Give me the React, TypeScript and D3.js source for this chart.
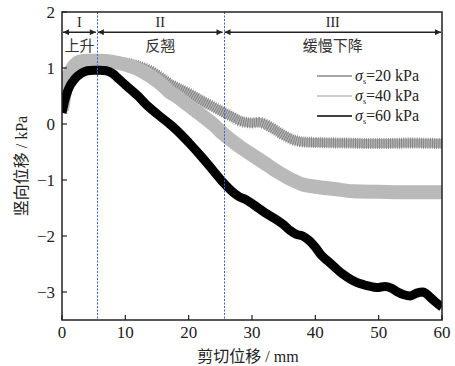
import React from "react";
import * as d3 from "d3";

const X20 = [0, 0.5, 1, 2, 3, 4, 6, 8, 10, 12, 14, 16, 17, 18, 20, 22, 24, 25.5, 27, 28, 29, 30, 31, 32, 33, 34, 35, 36, 38, 40, 45, 50, 55, 60];
const Y20 = [0.2, 0.6, 0.85, 1.03, 1.09, 1.1, 1.1, 1.1, 1.09, 1.04, 0.95, 0.8, 0.72, 0.66, 0.55, 0.42, 0.3, 0.21, 0.12, 0.06, 0.03, 0.02, 0.03, 0.0, -0.06, -0.13, -0.2, -0.26, -0.32, -0.33, -0.34, -0.35, -0.34, -0.35];

const X40 = [0, 0.5, 1, 2, 3, 4, 6, 8, 10, 12, 14, 16, 17, 18, 20, 22, 24, 25.5, 28, 30, 32, 34, 36, 38, 40, 43, 46, 50, 55, 60];
const Y40 = [0.25, 0.6, 0.85, 1.05, 1.12, 1.13, 1.13, 1.11, 1.06, 0.98, 0.85, 0.68, 0.57, 0.5, 0.33, 0.16, -0.02, -0.18, -0.4, -0.55, -0.7, -0.85, -0.98, -1.08, -1.12, -1.16, -1.2, -1.21, -1.22, -1.22];

const X60 = [0, 0.5, 1, 2, 3, 4, 5, 6, 7, 8, 9, 10, 11, 12, 13, 15, 17, 18, 20, 22, 24, 25.5, 27, 28, 29, 30, 31, 32, 34, 35, 36, 37, 38, 39, 40, 41, 42, 43, 44, 45, 46, 47, 48, 50, 51, 52, 53, 54, 55, 56, 57, 58, 59, 60];
const Y60 = [0.2, 0.45, 0.62, 0.8, 0.9, 0.95, 0.96, 0.96, 0.95, 0.9, 0.8, 0.7, 0.6, 0.5, 0.38, 0.18, 0.0, -0.1, -0.33, -0.58, -0.85, -1.05, -1.22, -1.3, -1.35, -1.42, -1.5, -1.58, -1.72, -1.8, -1.9, -1.97, -2.0, -2.08, -2.2, -2.35, -2.45, -2.55, -2.65, -2.73, -2.8, -2.85, -2.88, -2.92, -2.9, -2.93, -3.0, -3.05, -3.07, -3.02, -3.0, -3.08, -3.18, -3.27];

const X_TICKS = [0, 10, 20, 30, 40, 50, 60];
const Y_TICKS = [-3, -2, -1, 0, 1, 2];
const STAGE_BOUNDS = [0, 5.5, 25.5, 60];
const STAGE_NUMS = ["I", "II", "III"];
const STAGE_NAMES = ["上升", "反翘", "缓慢下降"];
const LEGEND = ["=20 kPa", "=40 kPa", "=60 kPa"];

export default function App() {
  const W = 455, H = 366;
  const L = 62, R = 442, T = 12, B = 320;
  const x = d3.scaleLinear().domain([0, 60]).range([L, R]);
  const y = d3.scaleLinear().domain([-3.5, 2]).range([B, T]);
  const line = d3.line<[number, number]>().x(d => x(d[0])).y(d => y(d[1])).curve(d3.curveMonotoneX);
  const p20 = line(X20.map((v, i) => [v, Y20[i]]) as [number, number][]) || "";
  const p40 = line(X40.map((v, i) => [v, Y40[i]]) as [number, number][]) || "";
  const p60 = line(X60.map((v, i) => [v, Y60[i]]) as [number, number][]) || "";
  const serif = "'Liberation Serif', 'DejaVu Serif', serif";
  const cjk = "'Noto Sans CJK SC', sans-serif";
  const arrowY = y(1.64);
  const legendY = [76, 96, 116];
  const legendColors = ["#8a8a8a", "#bdbdbd", "#000"];
  return (
    <svg width={W} height={H} style={{ position: "absolute", left: 0, top: 0, background: "#fff" }}>
      <defs>
        <marker id="ah" viewBox="0 0 10 10" refX="10" refY="5" markerWidth="8" markerHeight="6" orient="auto-start-reverse" markerUnits="userSpaceOnUse">
          <path d="M0,0 L10,5 L0,10 z" fill="#222" />
        </marker>
        <clipPath id="clip"><rect x={L} y={T} width={R - L} height={B - T} /></clipPath>
      </defs>
      <g clipPath="url(#clip)">
        <path d={p20} fill="none" stroke="#b4b4b4" strokeWidth={9} />
        <path d={p20} fill="none" stroke="#7a7a7a" strokeWidth={11} strokeDasharray="0.8,1.4" />
        <path d={p40} fill="none" stroke="#b9b9b9" strokeWidth={14} strokeLinejoin="round" />
        <path d={p60} fill="none" stroke="#000" strokeWidth={9} strokeLinejoin="round" />
      </g>
      {[STAGE_BOUNDS[1], STAGE_BOUNDS[2]].map((v, i) => (
        <line key={i} x1={Math.round(x(v)) + 0.5} x2={Math.round(x(v)) + 0.5} y1={T} y2={B} stroke="#3b5fd6" strokeWidth={1} strokeDasharray="2,1.5" />
      ))}
      {STAGE_NUMS.map((s, i) => {
        const x0 = x(STAGE_BOUNDS[i]), x1 = x(STAGE_BOUNDS[i + 1]);
        const cx = (x0 + x1) / 2;
        return (
          <g key={i}>
            <line x1={x0 + 1} x2={x1 - 1} y1={arrowY} y2={arrowY} stroke="#222" strokeWidth={1.5} markerStart="url(#ah)" markerEnd="url(#ah)" />
            <text x={cx} y={arrowY - 5} textAnchor="middle" fontFamily={serif} fontSize={14} fill="#222">{s}</text>
            <text x={cx} y={arrowY + 19} textAnchor="middle" fontFamily={cjk} fontSize={15} fill="#333">{STAGE_NAMES[i]}</text>
          </g>
        );
      })}
      {LEGEND.map((t, i) => (
        <g key={i}>
          <line x1={317} x2={352} y1={legendY[i]} y2={legendY[i]} stroke={legendColors[i]} strokeWidth={1.5} />
          <text x={355} y={legendY[i] + 5} fontFamily={serif} fontSize={16} fill="#222">
            <tspan fontStyle="italic">σ</tspan>
            <tspan fontSize={8} dy={3}>s</tspan>
            <tspan dy={-3}>{t}</tspan>
          </text>
        </g>
      ))}
      <rect x={L} y={T} width={R - L} height={B - T} fill="none" stroke="#222" strokeWidth={1.5} />
      {X_TICKS.map(v => (
        <g key={v}>
          <line x1={x(v)} x2={x(v)} y1={B} y2={B - 5} stroke="#222" strokeWidth={1.2} />
          <text x={x(v)} y={338} textAnchor="middle" fontFamily={serif} fontSize={17} fill="#222">{v}</text>
        </g>
      ))}
      {Y_TICKS.map(v => (
        <g key={v}>
          <line x1={L} x2={L + 5} y1={y(v)} y2={y(v)} stroke="#222" strokeWidth={1.2} />
          <text x={55} y={y(v) + 6} textAnchor="end" fontFamily={serif} fontSize={17} fill="#222">{v < 0 ? "−" + Math.abs(v) : v}</text>
        </g>
      ))}
      <text x={248} y={362} textAnchor="middle" fontSize={16} fill="#222">
        <tspan fontFamily={cjk}>剪切位移</tspan>
        <tspan fontFamily={serif}> / mm</tspan>
      </text>
      <text transform={`translate(27,${166}) rotate(-90)`} textAnchor="middle" fontSize={16} fill="#222">
        <tspan fontFamily={cjk}>竖向位移</tspan>
        <tspan fontFamily={serif}> / kPa</tspan>
      </text>
    </svg>
  );
}
